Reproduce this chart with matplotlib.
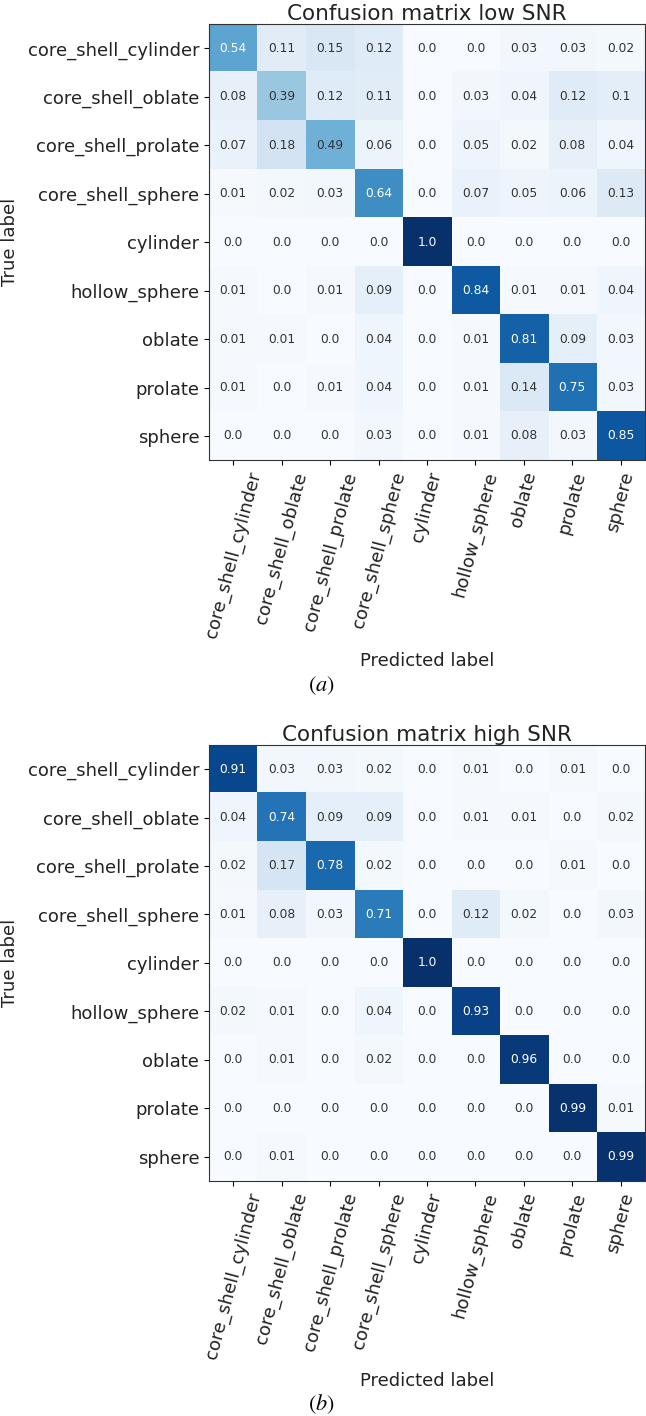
import numpy as np
import matplotlib
matplotlib.use("Agg")
from matplotlib import pyplot as plt

# ---------------------------
# Datos
# ---------------------------
classes = ["core_shell_cylinder", "core_shell_oblate", "core_shell_prolate",
           "core_shell_sphere", "cylinder", "hollow_sphere", "oblate",
           "prolate", "sphere"]

cm_low = [
    [0.54, 0.11, 0.15, 0.12, 0.0, 0.0, 0.03, 0.03, 0.02],
    [0.08, 0.39, 0.12, 0.11, 0.0, 0.03, 0.04, 0.12, 0.1],
    [0.07, 0.18, 0.49, 0.06, 0.0, 0.05, 0.02, 0.08, 0.04],
    [0.01, 0.02, 0.03, 0.64, 0.0, 0.07, 0.05, 0.06, 0.13],
    [0.0, 0.0, 0.0, 0.0, 1.0, 0.0, 0.0, 0.0, 0.0],
    [0.01, 0.0, 0.01, 0.09, 0.0, 0.84, 0.01, 0.01, 0.04],
    [0.01, 0.01, 0.0, 0.04, 0.0, 0.01, 0.81, 0.09, 0.03],
    [0.01, 0.0, 0.01, 0.04, 0.0, 0.01, 0.14, 0.75, 0.03],
    [0.0, 0.0, 0.0, 0.03, 0.0, 0.01, 0.08, 0.03, 0.85],
]

cm_high = [
    [0.91, 0.03, 0.03, 0.02, 0.0, 0.01, 0.0, 0.01, 0.0],
    [0.04, 0.74, 0.09, 0.09, 0.0, 0.01, 0.01, 0.0, 0.02],
    [0.02, 0.17, 0.78, 0.02, 0.0, 0.0, 0.0, 0.01, 0.0],
    [0.01, 0.08, 0.03, 0.71, 0.0, 0.12, 0.02, 0.0, 0.03],
    [0.0, 0.0, 0.0, 0.0, 1.0, 0.0, 0.0, 0.0, 0.0],
    [0.02, 0.01, 0.0, 0.04, 0.0, 0.93, 0.0, 0.0, 0.0],
    [0.0, 0.01, 0.0, 0.02, 0.0, 0.0, 0.96, 0.0, 0.0],
    [0.0, 0.0, 0.0, 0.0, 0.0, 0.0, 0.0, 0.99, 0.01],
    [0.0, 0.01, 0.0, 0.0, 0.0, 0.0, 0.0, 0.0, 0.99],
]

titles = ["Confusion matrix low SNR", "Confusion matrix high SNR"]
captions = ["$(a)$", "$(b)$"]

plt.rcParams["mathtext.fontset"] = "stix"
plt.rcParams["font.family"] = "DejaVu Sans"

fig = plt.figure(figsize=(6.46, 14.16), dpi=100)

# posiciones de los ejes (fracciones de la figura)
boxes = [[0.3235, 0.675, 0.675, 0.308], [0.3235, 0.166, 0.675, 0.308]]
cap_y = [0.508, 0.0]


def plot_cm(ax, cm, title):
    cm = np.array(cm)
    ax.imshow(cm, interpolation="nearest", cmap=plt.cm.Blues, vmin=0, vmax=1,
              aspect="auto")
    ax.set_title(title, fontsize=15.5, pad=3, color="#222222")
    ticks = np.arange(len(classes))
    ax.set_xticks(ticks)
    ax.set_yticks(ticks)
    ax.set_xticklabels(classes, rotation=75, ha="center", fontsize=13,
                       color="#222222")
    ax.set_yticklabels(classes, fontsize=13, color="#222222")
    thresh = cm.max() / 2.0
    for i in range(cm.shape[0]):
        for j in range(cm.shape[1]):
            ax.text(j, i, str(cm[i, j]), ha="center", va="center", fontsize=8.8,
                    color="white" if cm[i, j] > thresh else "#333333")
    ax.set_ylabel("True label", fontsize=13, color="#222222", labelpad=6)
    ax.set_xlabel("Predicted label", fontsize=13, color="#222222", labelpad=8)
    for s in ax.spines.values():
        s.set_color("#333333")


for k, cm in enumerate([cm_low, cm_high]):
    ax = fig.add_axes(boxes[k])
    plot_cm(ax, cm, titles[k])
    fig.text(0.498, cap_y[k], captions[k], fontsize=16, ha="center", va="bottom")

fig.savefig("out.png", dpi=100)
